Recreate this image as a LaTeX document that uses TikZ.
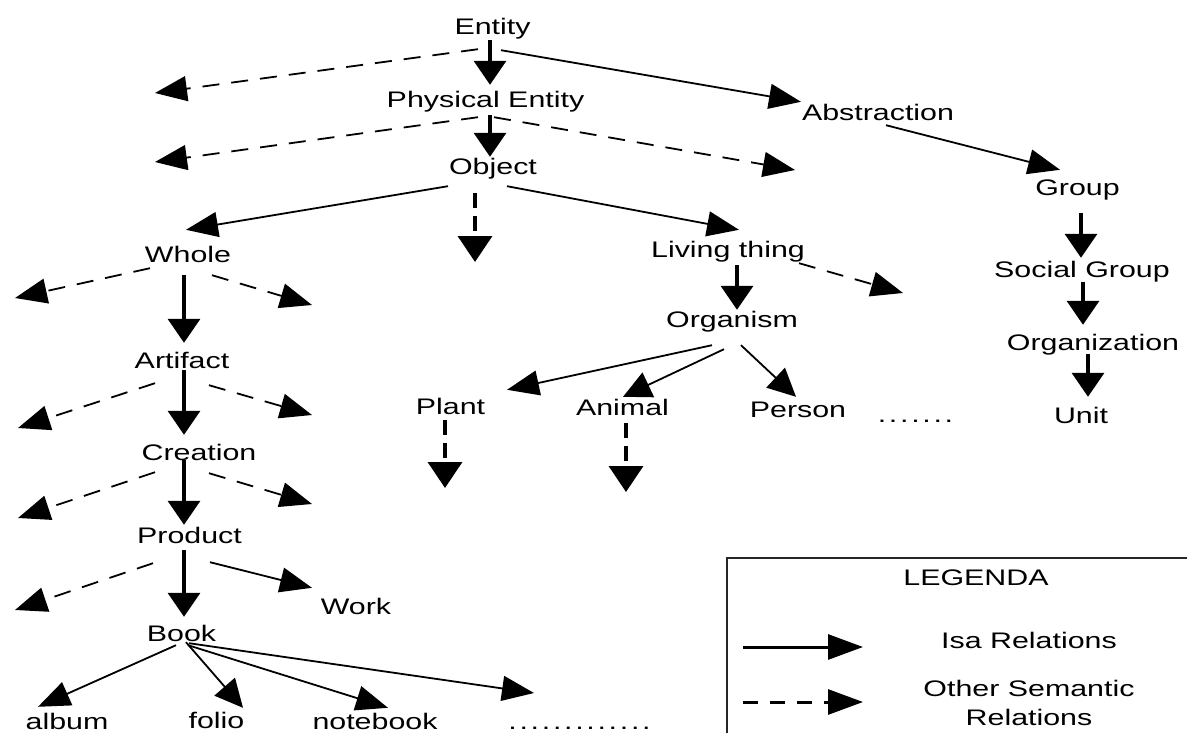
\documentclass[tikz,border=0pt]{standalone}
\usepackage{fontspec}
\setmainfont{Liberation Sans}[FakeStretch=1.35]
\usetikzlibrary{arrows.meta,calc}
\newcommand\dotkern{\kern2.7pt}
\begin{document}
\begin{tikzpicture}[x=1pt,y=-1pt,
  lbl/.style={inner sep=0pt, text height=17pt, text depth=5pt, anchor=base, font=\fontsize{22.5}{27}\selectfont},
  lowlbl/.style={lbl, text depth=0pt},
  isa/.style={line width=3.5pt, -{Triangle[length=24pt,width=32pt]}},
  rel/.style={line width=1.8pt, -{Triangle[length=32pt,width=25pt]}},
  relsteep/.style={line width=1.8pt, -{Triangle[length=28pt,width=27pt]}},
  oth/.style={line width=1.8pt, dash pattern=on 17pt off 12pt, -{Triangle[length=32pt,width=25pt]}},
  othv/.style={line width=3.5pt, dash pattern=on 15pt off 8pt, -{Triangle[length=26pt,width=34pt]}},
]
\useasboundingbox (0,0) rectangle (1187,733);

% nodes
\node[lbl] (entity) at (492.5,35) {Entity};
\node[lbl] (pe) at (485.5,108) {Physical Entity};
\node[lbl] (object) at (493,175) {Object};
\node[lbl] (abstraction) at (878,121) {Abstraction};
\node[lbl] (group) at (1077.5,196) {Group};
\node[lbl] (social) at (1082,277) {Social Group};
\node[lbl] (organization) at (1093,350) {Organization};
\node[lbl] (unit) at (1081,423) {Unit};
\node[lbl] (whole) at (188,262) {Whole};
\node[lbl] (living) at (728,257) {Living thing};
\node[lbl] (organism) at (732,327) {Organism};
\node[lbl] (plant) at (450.5,414) {Plant};
\node[lbl] (animal) at (622.5,415) {Animal};
\node[lbl] (person) at (798,417) {Person};
\node[lbl] (dotsA) at (915.5,422) {.\dotkern.\dotkern.\dotkern.\dotkern.\dotkern.\dotkern.};
\node[lbl] (artifact) at (182,368) {Artifact};
\node[lbl] (creation) at (199,460) {Creation};
\node[lbl] (product) at (189.5,543) {Product};
\node[lbl] (work) at (356,614) {Work};
\node[lbl] (book) at (181.5,641) {Book};
\node[lowlbl] (album) at (67,729) {album};
\node[lowlbl] (folio) at (216.5,728) {folio};
\node[lowlbl] (notebook) at (375,729) {notebook};
\node[lowlbl] (dotsB) at (579.5,729) {.\dotkern.\dotkern.\dotkern.\dotkern.\dotkern.\dotkern.\dotkern.\dotkern.\dotkern.\dotkern.\dotkern.\dotkern.};

% free ends
\coordinate (eL) at (155,93);
\coordinate (peL) at (155,162);
\coordinate (peR) at (795,170);
\coordinate (objD) at (475,262);
\coordinate (livR) at (903,293);
\coordinate (plD) at (445,488);
\coordinate (anD) at (626,492);
\coordinate (whL) at (15,298);
\coordinate (whR) at (312,305);
\coordinate (arL) at (18,428);
\coordinate (arR) at (312,415);
\coordinate (crL) at (18,518);
\coordinate (crR) at (312,504);
\coordinate (prL) at (15,610);
\coordinate (bkR) at (534,693);

% connectors
\draw[isa] ($(entity.south)+(-2.5,0)$) -- ($(pe.north)+(4.5,-6)$);
\draw[oth] ($(entity.south)+(-14.5,9)$) -- (eL);
\draw[rel] ($(entity.south)+(8.5,10)$) -- ($(abstraction.north)+(-77,-2)$);
\draw[isa] ($(pe.south)+(4.5,2)$) -- ($(object.north)+(-3,-1)$);
\draw[oth] ($(pe.south)+(-7.5,4)$) -- (peL);
\draw[oth] ($(pe.south)+(8.5,4)$) -- (peR);
\draw[rel] ($(object.south)+(-45,6)$) -- ($(whole.north)+(-2,-15)$);
\draw[othv] ($(object.south)+(-18,13)$) -- (objD);
\draw[rel] ($(object.south)+(14,6)$) -- ($(living.north)+(11,-10)$);
\draw[rel] ($(abstraction.south)+(8,-1)$) -- ($(group.north)+(-17.5,-9)$);
\draw[isa] ($(group.south)+(3.5,12)$) -- ($(social.north)+(-1,-2)$);
\draw[isa] ($(social.south)+(1,0)$) -- ($(organization.north)+(-10,-8)$);
\draw[isa] ($(organization.south)+(-5,-1)$) -- ($(unit.north)+(7,-9)$);
\draw[isa] ($(living.south)+(9,3)$) -- ($(organism.north)+(5,0)$);
\draw[oth] ($(living.south)+(71,1)$) -- (livR);
\draw[rel] ($(organism.south)+(-20,13)$) -- ($(plant.north)+(56.5,-7)$);
\draw[relsteep] ($(organism.south)+(-8,17)$) -- ($(animal.north)+(0.5,-1)$);
\draw[relsteep] ($(organism.south)+(9,13)$) -- ($(person.north)+(-2,-3)$);
\draw[othv] ($(plant.south)+(-5.5,1)$) -- (plD);
\draw[othv] ($(animal.south)+(3.5,3)$) -- (anD);
\draw[oth] ($(whole.south)+(-38,1)$) -- (whL);
\draw[oth] ($(whole.south)+(24,8)$) -- (whR);
\draw[isa] ($(whole.south)+(-4,8)$) -- ($(artifact.north)+(2,-8)$);
\draw[oth] ($(artifact.south)+(-27,10)$) -- (arL);
\draw[oth] ($(artifact.south)+(27,12)$) -- (arR);
\draw[isa] ($(artifact.south)+(2,-3)$) -- ($(creation.north)+(-15,-8)$);
\draw[oth] ($(creation.south)+(-44,7)$) -- (crL);
\draw[oth] ($(creation.south)+(10,8)$) -- (crR);
\draw[isa] ($(creation.south)+(-15,-5)$) -- ($(product.north)+(-5.5,-1)$);
\draw[oth] ($(product.south)+(-36.5,15)$) -- (prL);
\draw[rel] ($(product.south)+(20.5,14)$) -- ($(work.north)+(-44,-9)$);
\draw[isa] ($(product.south)+(-5.5,2)$) -- ($(book.north)+(2.5,-7)$);
\draw[rel] ($(book.south)+(-5.5,-1)$) -- ($(album.north)+(-29,-5)$);
\draw[relsteep] ($(book.south)+(4.5,-4)$) -- ($(folio.north)+(26.5,-3)$);
\draw[rel] ($(book.south)+(6.5,-1)$) -- ($(notebook.north)+(13,-4)$);
\draw[rel] ($(book.south)+(7.5,-3)$) -- (bkR);

% legend
\draw[line width=2pt, draw=black!85] (727,733) -- (727,558) -- (1187,558);
\node[lbl] (legenda) at (976,585) {LEGENDA};
\coordinate (l1s) at (743,647);
\coordinate (l1e) at (863,647);
\draw[line width=3pt, -{Triangle[length=35pt,width=25pt]}] (l1s) -- (l1e);
\node[lbl] (isalbl) at (1029,648) {Isa Relations};
\coordinate (l2s) at (743,702);
\coordinate (l2e) at (863,702);
\draw[line width=3pt, dash pattern=on 15pt off 12pt, -{Triangle[length=35pt,width=25pt]}] (l2s) -- (l2e);
\node[inner sep=0pt, align=center, anchor=north, font=\fontsize{22.5}{29}\selectfont] (othlbl) at (1029,680) {Other Semantic\\Relations};
\end{tikzpicture}
\end{document}
